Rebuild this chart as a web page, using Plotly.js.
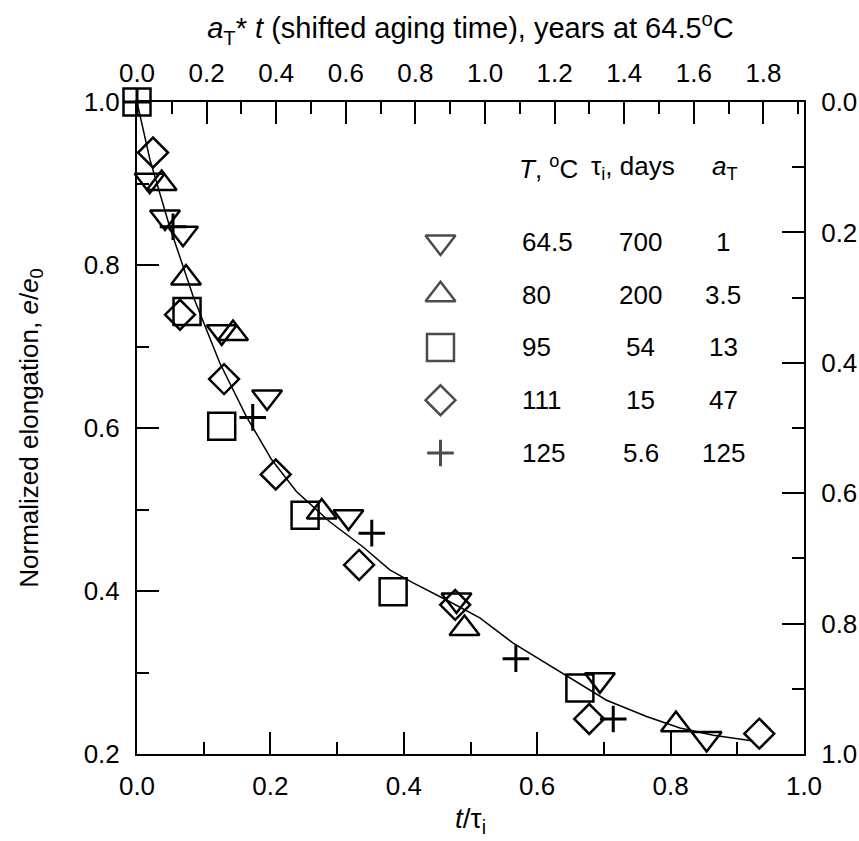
<!DOCTYPE html>
<html><head><meta charset="utf-8">
<script src="https://cdn.plot.ly/plotly-3.0.1.min.js"></script>
<style>html,body{margin:0;padding:0;background:#fff}</style>
</head><body><div id="chart" style="width:859px;height:841px"></div>
<script>
// ---- data ----
const x645 = [0.019, 0.042, 0.069, 0.127, 0.195, 0.317, 0.479, 0.694, 0.854];
const y645 = [0.904, 0.859, 0.839, 0.718, 0.638, 0.491, 0.389, 0.291, 0.219];
const x80  = [0.037, 0.0735, 0.144, 0.277, 0.491, 0.808];
const y80  = [0.900, 0.784, 0.716, 0.497, 0.354, 0.236];
const x95  = [0.0, 0.075, 0.127, 0.252, 0.384, 0.664];
const y95  = [1.0, 0.743, 0.602, 0.493, 0.399, 0.281];
const x111 = [0.024, 0.0645, 0.1305, 0.208, 0.333, 0.477, 0.678, 0.933];
const y111 = [0.938, 0.739, 0.660, 0.543, 0.432, 0.383, 0.243, 0.225];
const x125 = [0.0, 0.054, 0.1735, 0.352, 0.568, 0.714];
const y125 = [1.0, 0.847, 0.613, 0.471, 0.317, 0.243];
const curveX = [0, 0.0195, 0.049, 0.084, 0.124, 0.164, 0.202, 0.239, 0.289, 0.339, 0.379, 0.414, 0.464, 0.514, 0.564, 0.614, 0.664, 0.704, 0.764, 0.814, 0.864, 0.924];
const curveY = [1.0, 0.929, 0.847, 0.762, 0.680, 0.614, 0.561, 0.522, 0.485, 0.454, 0.426, 0.410, 0.389, 0.367, 0.336, 0.311, 0.287, 0.266, 0.246, 0.232, 0.223, 0.216];
// table
const tempLabels = ['64.5', '80', '95', '111', '125'];
const tauLabels  = ['700', '200', '54', '15', '5.6'];
const aTLabels   = ['1', '3.5', '13', '47', '125'];
const yearsRange = 700 / 365.25; // top axis: t/tau_i = 1 -> 700 days at 64.5 C

// ---- styles ----
const FONT = 'Liberation Sans, Arial, Helvetica, sans-serif';
const symbols = ['triangle-down-open', 'triangle-up-open', 'square-open', 'diamond-open', 'cross-thin-open'];
const sizes = [26, 26, 27, 23, 19];
const lw = [2.5, 2.5, 2.5, 2.5, 3];
const xs = [x645, x80, x95, x111, x125];
const ys = [y645, y80, y95, y111, y125];

const traces = [{
  x: curveX, y: curveY, mode: 'lines', line: {color: 'black', width: 1.5}, hoverinfo: 'skip'
}];
for (let i = 0; i < xs.length; i++) {
  traces.push({
    x: xs[i], y: ys[i], mode: 'markers', name: tempLabels[i], cliponaxis: false,
    marker: {symbol: symbols[i], size: sizes[i], color: 'black', line: {color: 'black', width: lw[i]}}
  });
}
// secondary axes carrier (invisible)
traces.push({x: [0], y: [0], xaxis: 'x2', yaxis: 'y2', mode: 'markers', marker: {opacity: 0}, hoverinfo: 'skip'});
// legend symbols column
traces.push({
  x: tempLabels.map(() => 0), y: tempLabels.map((_, i) => i), xaxis: 'x3', yaxis: 'y3',
  mode: 'markers', cliponaxis: false, hoverinfo: 'skip',
  marker: {symbol: symbols, size: sizes, color: 'black', line: {color: 'black', width: lw}}
});

const axCommon = {
  showline: true, linewidth: 2, linecolor: 'black', showgrid: false, zeroline: false,
  ticks: 'inside', ticklen: 22, tickwidth: 2, tickcolor: 'black',
  tickfont: {family: FONT, size: 26, color: 'black'},
  minor: {ticks: 'inside', ticklen: 12, tickwidth: 2, tickcolor: 'black', dtick: 0.1, showgrid: false}
};

const annotations = [];
const colX = {hdrT: 0.5697, hdrTau: 0.7436, hdrA: 0.8816, c1: 0.5742, c2: 0.7556, c3: 0.8786};
const hdrY = 0.8988;
const af = {family: FONT, size: 26, color: 'black'};
annotations.push({xref: 'paper', yref: 'paper', x: colX.hdrT, y: hdrY, xanchor: 'left', yanchor: 'middle', text: '<i>T</i>, <sup>o</sup>C', showarrow: false, font: af});
annotations.push({xref: 'paper', yref: 'paper', x: colX.hdrTau, y: hdrY, xanchor: 'center', yanchor: 'middle', text: 'τ<sub>i</sub>, days', showarrow: false, font: af});
annotations.push({xref: 'paper', yref: 'paper', x: colX.hdrA, y: hdrY, xanchor: 'center', yanchor: 'middle', text: '<i>a</i><sub>T</sub>', showarrow: false, font: af});
for (let i = 0; i < tempLabels.length; i++) {
  annotations.push({xref: 'paper', yref: 'y3', x: colX.c1, y: i, xanchor: 'left', yanchor: 'middle', text: tempLabels[i], showarrow: false, font: af});
  annotations.push({xref: 'paper', yref: 'y3', x: colX.c2, y: i, xanchor: 'center', yanchor: 'middle', text: tauLabels[i], showarrow: false, font: af});
  annotations.push({xref: 'paper', yref: 'y3', x: colX.c3, y: i, xanchor: 'center', yanchor: 'middle', text: aTLabels[i], showarrow: false, font: af});
}

const layout = {
  width: 859, height: 841,
  margin: {l: 137, r: 55, t: 102, b: 87, pad: 0},
  paper_bgcolor: 'white', plot_bgcolor: 'rgba(0,0,0,0)',
  showlegend: false,
  font: {family: FONT, size: 26, color: 'black'},
  xaxis: Object.assign({}, axCommon, {
    range: [0, 1], tick0: 0, dtick: 0.2, tickformat: '.1f', side: 'bottom', anchor: 'y',
    ticklabelstandoff: 8,
    title: {text: '<i>t</i>/τ<sub>i</sub>', font: {family: FONT, size: 28, color: 'black'}, standoff: 8}
  }),
  xaxis2: Object.assign({}, axCommon, {
    range: [0, yearsRange], tick0: 0, dtick: 0.2, tickformat: '.1f', side: 'top', overlaying: 'x', anchor: 'y2',
    ticklabelstandoff: 8,
    title: {text: '<i>a</i><sub>T</sub>* <i>t</i> (shifted aging time), years at 64.5<sup>o</sup>C', font: {family: FONT, size: 29, color: 'black'}, standoff: 10}
  }),
  yaxis: Object.assign({}, axCommon, {
    range: [0.2, 1.0], tick0: 0.2, dtick: 0.2, tickformat: '.1f', side: 'left', anchor: 'x',
    ticklabelstandoff: 10,
    title: {text: 'Normalized elongation, <i>e</i>/<i>e</i><sub>0</sub>', font: {family: FONT, size: 26, color: 'black'}, standoff: 38}
  }),
  yaxis2: Object.assign({}, axCommon, {
    range: [1.0, 0.0], tick0: 0, dtick: 0.2, tickformat: '.1f', side: 'right', overlaying: 'y', anchor: 'x2',
    ticklabelstandoff: 10
  }),
  xaxis3: {domain: [0.44, 0.47], range: [-1, 1], anchor: 'y3', visible: false, fixedrange: true},
  yaxis3: {domain: [0.4212, 0.8258], range: [4.5, -0.5], anchor: 'x3', visible: false, fixedrange: true},
  annotations: annotations
};

Plotly.newPlot('chart', traces, layout, {staticPlot: true});
</script></body></html>
